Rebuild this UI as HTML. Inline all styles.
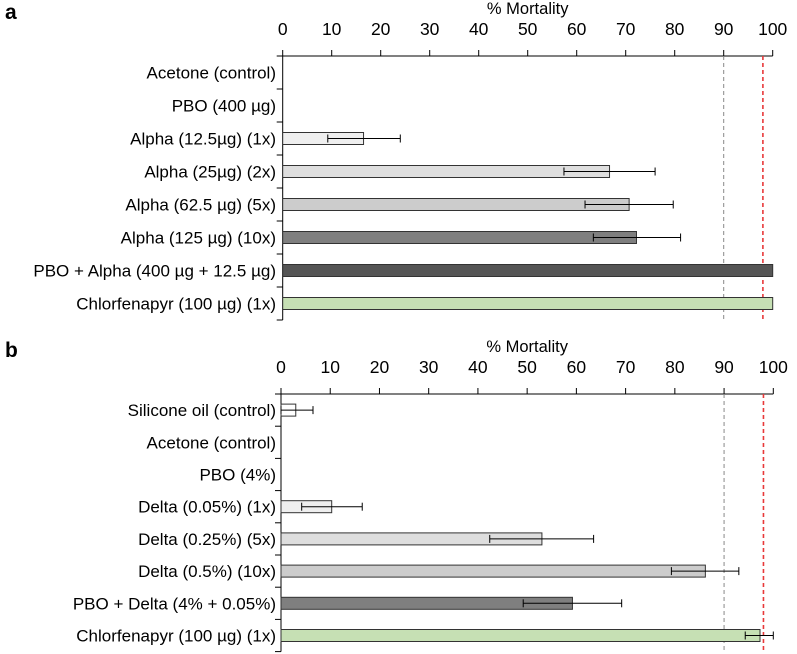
<!DOCTYPE html>
<html><head><meta charset="utf-8"><style>
body{margin:0;background:#fff;}
svg{display:block;font-family:"Liberation Sans",sans-serif;}
</style></head><body>
<svg id="chart" width="797" height="654"></svg>
<script>
const catsA=["Acetone (control)","PBO (400 µg)","Alpha (12.5µg) (1x)","Alpha (25µg) (2x)","Alpha (62.5 µg) (5x)","Alpha (125 µg) (10x)","PBO + Alpha (400 µg + 12.5 µg)","Chlorfenapyr (100 µg) (1x)"];
const valsA=[0,0,16.5,66.7,70.7,72.2,100,100];
const loA=[null,null,9.2,57.4,61.7,63.4,null,null];
const hiA=[null,null,24,76,79.7,81.2,null,null];
const colsA=["#fff","#fff","#efefef","#dedede","#cccccc","#7f7f7f","#555555","#c6e0b4"];
const catsB=["Silicone oil (control)","Acetone (control)","PBO (4%)","Delta (0.05%) (1x)","Delta (0.25%) (5x)","Delta (0.5%) (10x)","PBO + Delta (4% + 0.05%)","Chlorfenapyr (100 µg) (1x)"];
const valsB=[3,0,0,10.3,53,86.2,59.2,97.3];
const loB=[0,null,null,4.2,42.4,79.3,49.2,94.3];
const hiB=[6.5,null,null,16.5,63.5,93,69.2,100];
const colsB=["#fff","#fff","#fff","#efefef","#dedede","#cccccc","#7f7f7f","#c6e0b4"];
const ticks=[0,10,20,30,40,50,60,70,80,90,100];
const refLines=[90,98];
const NS="http://www.w3.org/2000/svg";
const svg=document.getElementById('chart');
function mk(t,a,p){const e=document.createElementNS(NS,t);for(const k in a)e.setAttribute(k,a[k]);(p||svg).appendChild(e);return e;}
function panel(id,letter,top,x0,x1,rowH,cats,vals,lo,hi,cols){
  const g=mk('g',{});
  
  
  const sx=v=>x0+(x1-x0)*v/100;
  const axisY=top, bottom=top+rowH*cats.length;
  const pl=mk('text',{x:5,y:top-37,'font-size':21,'font-weight':'bold'},g);pl.textContent=letter;
  
  
  const tt=mk('text',{x:(x0+x1)/2,y:top-42,'font-size':16.5,'text-anchor':'middle'},g);tt.textContent='% Mortality';
  
  
  mk('line',{x1:x0-6,x2:x1,y1:axisY,y2:axisY,stroke:'#000','stroke-width':1},g);
  mk('line',{x1:x0,x2:x0,y1:axisY,y2:bottom,stroke:'#000','stroke-width':1},g);
  ticks.forEach(t=>{
    mk('line',{x1:sx(t),x2:sx(t),y1:axisY-6,y2:axisY,stroke:'#000'},g);
    const tl=mk('text',{x:sx(t),y:top-21,'font-size':17.5,'text-anchor':'middle'},g);tl.textContent=t;
    
    
  });
  for(let i=1;i<=cats.length;i++) mk('line',{x1:x0-6,x2:x0,y1:axisY+i*rowH,y2:axisY+i*rowH,stroke:'#000'},g);
  mk('line',{x1:sx(refLines[0]),x2:sx(refLines[0]),y1:axisY,y2:bottom,stroke:'#888','stroke-dasharray':'4,3','stroke-width':1},g);
  mk('line',{x1:sx(refLines[1]),x2:sx(refLines[1]),y1:axisY,y2:bottom,stroke:'#e8393a','stroke-dasharray':'4,3','stroke-width':1.6},g);
  const bh=12;
  cats.forEach((c,i)=>{
    const cy=axisY+rowH*(i+0.5);
    const lb=mk('text',{x:276,y:cy+6,'font-size':17,'text-anchor':'end'},g);lb.textContent=c;
    
    
    if(vals[i]>0){
      const r=mk('rect',{x:x0,y:cy-bh/2,width:sx(vals[i])-x0,height:bh,fill:cols[i],stroke:'#333','stroke-width':1},g);
      
      
    }
    if(lo[i]!==null){
      const eb=mk('g',{stroke:'#000','stroke-width':1},g);
      
      
      mk('line',{x1:sx(lo[i]),x2:sx(hi[i]),y1:cy,y2:cy},eb);
      mk('line',{x1:sx(lo[i]),x2:sx(lo[i]),y1:cy-4,y2:cy+4},eb);
      mk('line',{x1:sx(hi[i]),x2:sx(hi[i]),y1:cy-4,y2:cy+4},eb);
    }
  });
}
panel('a','a',56,282.7,772.7,33,catsA,valsA,loA,hiA,colsA);
panel('b','b',394,281,773.3,32.2,catsB,valsB,loB,hiB,colsB);
</script>
</body></html>
